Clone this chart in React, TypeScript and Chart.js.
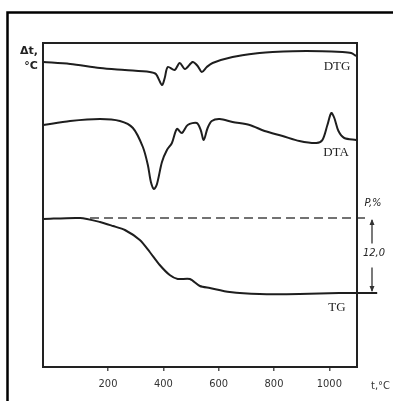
import React, { useEffect, useRef } from "react";
import { Chart, registerables } from "chart.js";
Chart.register(...registerables);

// Temperature ticks (°C)
const tempTicks = [200, 400, 600, 800, 1000];

// DTG curve (temperature °C, signal arbitrary units)
const dtgTemp = [-34, 63, 171, 261, 351, 373, 395, 405, 416, 441, 459, 478, 506, 524, 539, 557, 578, 650, 748, 795, 917, 1047, 1079, 1097];
const dtgSignal = [305, 303, 299, 297, 295, 293, 282, 289, 300, 297, 304, 298, 305, 301, 295, 300, 304, 310, 314, 315, 316, 315, 314, 311];

// DTA curve
const dtaTemp = [-34, 63, 171, 243, 290, 326, 344, 355, 366, 377, 395, 413, 431, 449, 467, 488, 521, 535, 546, 560, 575, 604, 650, 712, 766, 831, 892, 953, 975, 993, 1007, 1018, 1033, 1054, 1097];
const dtaSignal = [242, 246, 248, 246, 239, 220, 202, 185, 178, 183, 205, 217, 224, 238, 234, 242, 244, 237, 227, 239, 246, 248, 245, 242, 236, 231, 226, 224, 227, 242, 254, 249, 236, 229, 227];

// TG curve
const tgTemp = [-34, 99, 171, 218, 261, 315, 351, 387, 423, 452, 496, 532, 568, 640, 748, 892, 1036, 1097, 1173];
const tgSignal = [148, 149, 145, 141, 137, 127, 115, 102, 92, 88, 88, 81, 79, 75, 73, 73, 74, 74, 74];

// TG reference (initial mass) line
const tgRefTemp = [135, 1144];
const tgRefSignal = [149, 149];

const massLossLabel = "12,0";

const toPts = (xs: number[], ys: number[]) => xs.map((x, i) => ({ x, y: ys[i] }));

const decor = {
  id: "decor",
  beforeDraw(chart: any) {
    const { ctx } = chart;
    ctx.save();
    ctx.fillStyle = "#ffffff";
    ctx.fillRect(0, 0, chart.width, chart.height);
    ctx.restore();
  },
  afterDraw(chart: any) {
    const { ctx, chartArea: a, scales } = chart;
    const ys = scales.y;
    ctx.save();
    // outer frame
    ctx.strokeStyle = "#000";
    ctx.lineWidth = 2.5;
    ctx.beginPath();
    ctx.moveTo(7.5, 401);
    ctx.lineTo(7.5, 12.5);
    ctx.lineTo(393, 12.5);
    ctx.stroke();
    // plot box
    ctx.strokeStyle = "#222";
    ctx.lineWidth = 2;
    ctx.strokeRect(a.left, a.top, a.right - a.left, a.bottom - a.top);

    // labels
    ctx.fillStyle = "#222";
    ctx.textBaseline = "middle";
    ctx.textAlign = "center";
    ctx.font = "bold 11px 'DejaVu Sans'";
    ctx.fillText("Δt,", 29, 51);
    ctx.fillText("°C", 31, 66);

    ctx.font = "13px 'Liberation Serif'";
    ctx.fillText("DTG", a.right - 20, 67);
    ctx.fillText("DTA", a.right - 21, 153);
    ctx.fillText("TG", a.right - 20, 308);

    // mass-loss dimension
    const y0 = ys.getPixelForValue(tgRefSignal[0]);
    const y1 = ys.getPixelForValue(tgSignal[tgSignal.length - 1]);
    const ax = a.right + 15;
    ctx.font = "italic 11px 'DejaVu Sans Condensed'";
    ctx.fillText("P,%", ax + 1, y0 - 15);
    ctx.fillText(massLossLabel, ax + 2, (y0 + y1) / 2 - 2);
    ctx.lineWidth = 1.3;
    ctx.strokeStyle = "#333";
    ctx.beginPath();
    ctx.moveTo(ax, y0 + 2);
    ctx.lineTo(ax, (y0 + y1) / 2 - 12);
    ctx.moveTo(ax, (y0 + y1) / 2 + 12);
    ctx.lineTo(ax, y1 - 2);
    ctx.stroke();
    ctx.fillStyle = "#333";
    ctx.beginPath();
    ctx.moveTo(ax, y0 + 1);
    ctx.lineTo(ax - 2.5, y0 + 7);
    ctx.lineTo(ax + 2.5, y0 + 7);
    ctx.closePath();
    ctx.fill();
    ctx.beginPath();
    ctx.moveTo(ax, y1 - 1);
    ctx.lineTo(ax - 2.5, y1 - 7);
    ctx.lineTo(ax + 2.5, y1 - 7);
    ctx.closePath();
    ctx.fill();

    // axis title
    ctx.fillStyle = "#333";
    ctx.textAlign = "left";
    ctx.font = "11px 'DejaVu Sans Condensed'";
    ctx.fillText("t,°C", a.right + 14, 386);
    ctx.restore();
  },
};

export default function App() {
  const ref = useRef<HTMLCanvasElement | null>(null);
  useEffect(() => {
    if (!ref.current) return;
    const line = { borderColor: "#1e1e1e", borderWidth: 2, pointRadius: 0, tension: 0.3, fill: false };
    const chart = new Chart(ref.current, {
      type: "line",
      data: {
        datasets: [
          { ...line, label: "DTG", data: toPts(dtgTemp, dtgSignal) },
          { ...line, label: "DTA", data: toPts(dtaTemp, dtaSignal) },
          { ...line, label: "TG", data: toPts(tgTemp, tgSignal), clip: false, tension: 0.25 },
          { ...line, label: "TG ref", data: toPts(tgRefTemp, tgRefSignal), clip: false, borderDash: [9, 5], borderWidth: 1.6, borderColor: "#444", tension: 0 },
        ] as any,
      },
      options: {
        animation: false,
        responsive: false,
        layout: { padding: { left: 43, top: 43, right: 36, bottom: 0 } },
        plugins: { legend: { display: false }, tooltip: { enabled: false } },
        scales: {
          x: {
            type: "linear",
            min: -35,
            max: 1100,
            afterBuildTicks: (s: any) => {
              s.ticks = tempTicks.map((v) => ({ value: v }));
            },
            afterFit: (s: any) => {
              s.height = 34;
            },
            grid: { drawOnChartArea: false, drawTicks: true, tickLength: 4, color: "#555", lineWidth: 1.5 },
            border: { display: false },
            ticks: {
              padding: 7,
              color: "#333",
              font: { family: "'DejaVu Sans Condensed'", size: 11 },
              maxRotation: 0,
              callback: (v: any) => String(v),
            },
          },
          y: { display: false, min: 0, max: 324 },
        },
      },
      plugins: [decor],
    });
    return () => chart.destroy();
  }, []);
  return (
    <div style={{ position: "absolute", left: 0, top: 0, width: 393, height: 401 }}>
      <canvas ref={ref} width={393} height={401} style={{ display: "block" }} />
    </div>
  );
}
